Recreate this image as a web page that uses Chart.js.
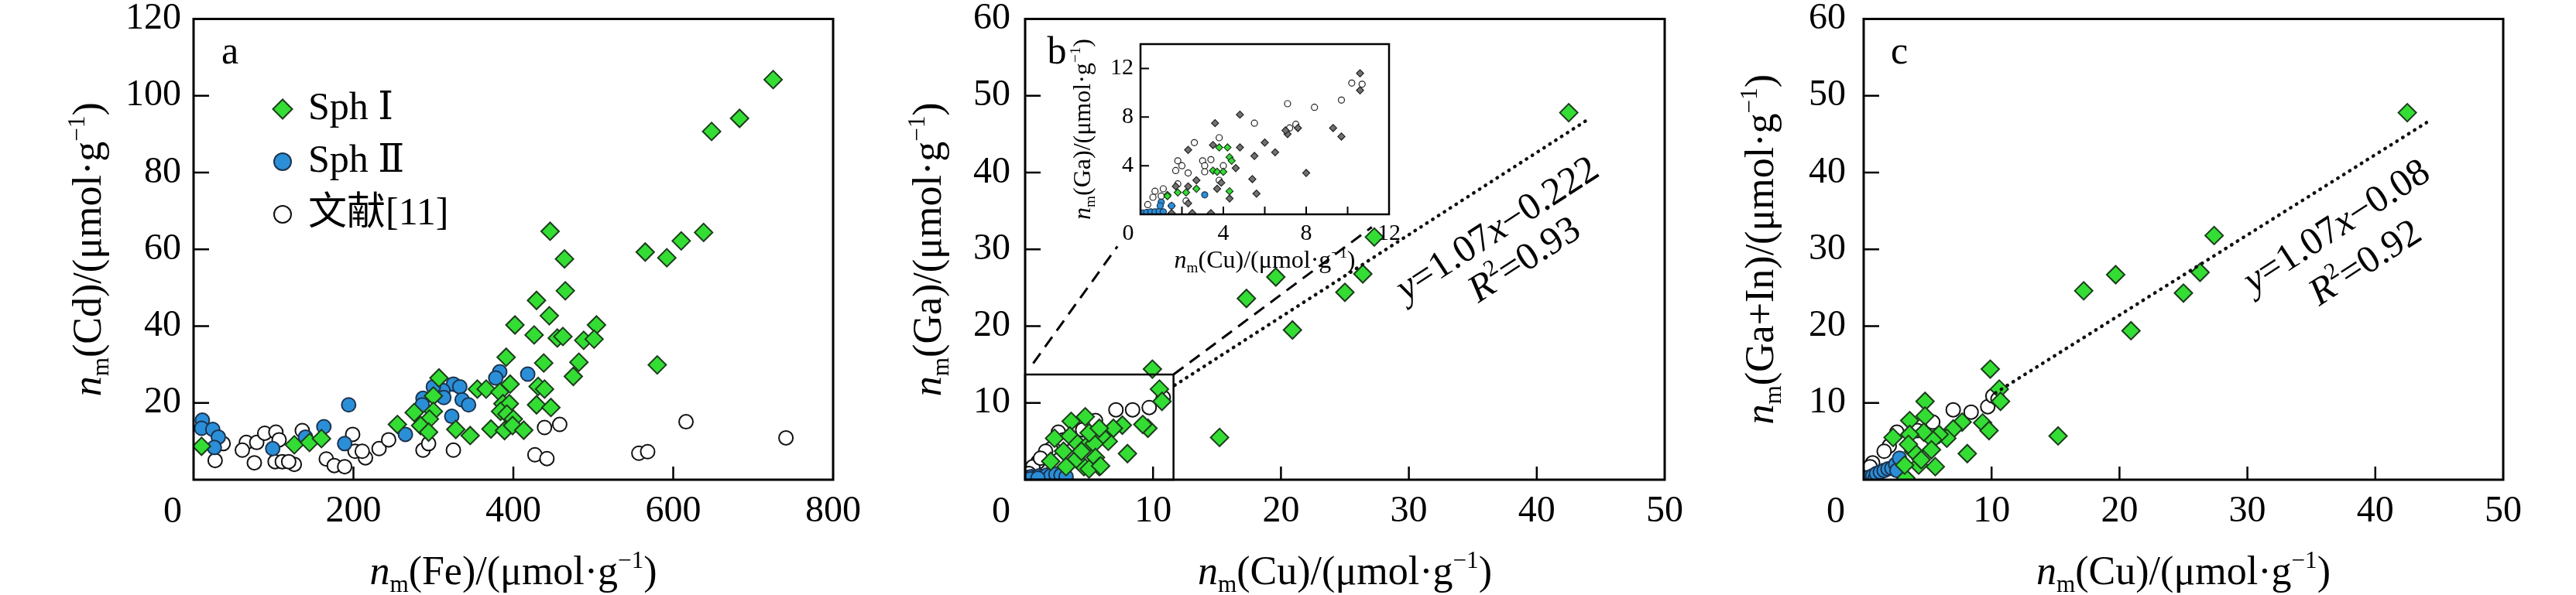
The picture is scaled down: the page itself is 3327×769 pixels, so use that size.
<!DOCTYPE html>
<html>
<head>
<meta charset="utf-8">
<title>Sph Cd / Ga / Ga+In scatter</title>
<script src="https://cdn.jsdelivr.net/npm/chart.js@4.4.1/dist/chart.umd.min.js"></script>
<style>
  html, body { margin: 0; padding: 0; background: #fff; }
  #wrap { position: relative; width: 3327px; height: 769px; overflow: hidden; background: #fff; }
  canvas { position: absolute; }
</style>
</head>
<body>
<div id="wrap">
  <canvas id="panelA" width="1166" height="809"></canvas>
  <canvas id="panelB" width="1166" height="809"></canvas>
  <canvas id="panelC" width="1166" height="809"></canvas>
  <canvas id="insetB" width="440" height="340"></canvas>
</div>
<script>
const FONT = '"Liberation Serif", "DejaVu Serif", "Noto Sans CJK SC", serif';
Chart.defaults.color = '#000';
Chart.defaults.font.family = FONT;

const seriesLabels = ['Sph Ⅰ', 'Sph Ⅱ', '文献[11]'];

// panel a: Fe vs Cd
const aSph1Fe = [725, 683, 648, 638, 610, 565, 592, 580, 446, 464, 465, 429, 445, 402, 426, 455, 462, 504, 488, 501,
  391, 438, 482, 475, 307, 355, 366, 396, 383, 431, 439, 300, 387, 395, 429, 447, 384, 392, 300, 276,
  295, 284, 294, 400, 328, 346, 372, 389, 399, 413, 10, 126, 145, 160, 255];
const aSph1Cd = [104.2, 94.1, 90.7, 64.4, 62.2, 59.3, 57.8, 29.9, 64.7, 57.5, 49.2, 46.7, 42.7, 40.3, 37.7, 36.9, 37.3, 40.3, 36.3, 36.6,
  31.9, 30.4, 30.6, 26.9, 26.5, 23.6, 23.6, 24.9, 22.8, 24.3, 23.6, 21.8, 19.8, 19.8, 19.5, 18.8, 17.8, 17.1, 17.8, 17.5,
  15.8, 14.1, 12.4, 15.8, 13.1, 11.5, 13.2, 12.8, 14.1, 12.9, 8.7, 9.1, 9.7, 10.7, 14.4];
const aSph2Fe = [11, 10, 24, 31, 26, 99, 163, 194, 189, 265, 140, 383, 378, 418, 325, 333, 312, 300, 336, 344, 287, 286, 313, 323];
const aSph2Cd = [15.5, 13.4, 13.1, 11.1, 8.4, 8.1, 13.8, 19.5, 9.4, 11.8, 11.1, 28.1, 26.5, 27.5, 24.9, 24.2, 23.2, 24.2, 20.8, 19.5, 21.2, 19.5, 21.4, 16.5];
const aLitFe = [37, 27, 66, 61, 79, 89, 103, 107, 76, 102, 111, 126, 119, 136, 166, 176, 189, 199, 202, 215,
  211, 232, 244, 287, 294, 325, 439, 458, 427, 442, 557, 568, 741, 616];
const aLitCd = [9.4, 5.0, 9.7, 7.7, 9.7, 12.1, 12.4, 10.4, 4.4, 4.7, 4.7, 4.0, 4.7, 12.8, 5.4, 3.7, 3.4, 11.8, 7.4, 5.7,
  7.4, 8.1, 10.4, 7.7, 9.4, 7.7, 13.6, 14.4, 6.5, 5.5, 6.9, 7.3, 10.9, 15.1];

// panel b: Cu vs Ga
const bSph1Cu = [42.5, 27.3, 26.4, 19.6, 17.3, 25.0, 20.9, 15.2, 9.95, 10.5, 10.7, 9.6, 9.2, 8.0, 7.6, 6.9, 6.5, 6.0, 4.7, 3.6,
  2.3, 3.5, 4.1, 4.8, 5.4, 5.5, 5.8, 4.6, 4.0, 3.2, 3.0, 2.0, 4.4, 5.0, 5.8, 5.0, 5.9];
const bSph1Ga = [47.8, 31.6, 26.8, 26.4, 23.6, 24.4, 19.5, 5.5, 14.4, 11.8, 10.2, 6.7, 7.2, 3.4, 7.1, 6.7, 5.0, 5.7, 8.2, 7.6,
  5.4, 5.7, 4.7, 4.4, 4.7, 2.9, 1.7, 1.7, 2.7, 1.7, 3.7, 2.4, 3.7, 6.1, 6.7, 1.4, 1.8];
const bSph2Cu = [0.2, 0.5, 0.8, 1.1, 1.4, 1.7, 2.0, 2.4, 2.8, 3.2, 0.4, 1.0];
const bSph2Ga = [0.3, 0.4, 0.3, 0.5, 0.4, 0.6, 0.5, 0.7, 0.6, 0.4, 0.1, 0.2];
const bLitCu = [7.1, 8.4, 9.7, 10.8, 5.5, 2.6, 2.0, 1.6, 1.0, 0.6, 3.0, 1.2, 0.3, 4.5];
const bLitGa = [9.1, 9.1, 9.4, 10.7, 7.7, 6.2, 4.0, 3.7, 2.3, 1.7, 5.2, 2.8, 0.8, 6.5];
const bFitCu = [11.7, 43.9];
const bFitGa = [12.3, 46.8];
const zoomBoxCu = 11.6;
const zoomBoxGa = 13.7;

// panel c: Cu vs Ga+In
const cSph1Cu = [42.5, 27.4, 26.3, 19.7, 17.2, 25.0, 20.9, 15.2, 9.9, 10.6, 10.7, 4.8, 4.8, 3.6, 9.3, 9.8, 7.7, 7.0, 6.5, 5.9,
  5.4, 4.7, 3.6, 2.3, 3.9, 5.3, 8.1, 5.6, 4.3, 3.3, 3.2, 4.5, 3.5];
const cSph1GaIn = [47.8, 31.8, 27.0, 26.7, 24.6, 24.3, 19.4, 5.7, 14.4, 11.8, 10.2, 10.2, 8.3, 7.7, 7.4, 6.4, 7.5, 6.6, 5.4, 5.9,
  5.2, 6.2, 5.9, 5.5, 3.7, 3.9, 3.4, 1.7, 1.9, 0.2, 1.9, 2.6, 4.6];
const cSph2Cu = [0.2, 0.4, 0.7, 0.9, 1.0, 1.3, 1.6, 1.9, 2.2, 2.5, 2.6, 2.8];
const cSph2GaIn = [0.15, 0.3, 0.5, 0.2, 0.8, 1.0, 1.2, 1.4, 1.5, 2.0, 1.2, 2.8];
const cLitCu = [7.0, 8.4, 9.7, 10.1, 5.4, 2.6, 2.0, 1.6, 0.7, 0.5, 10.5, 4.2];
const cLitGaIn = [9.1, 8.8, 9.5, 10.9, 7.5, 6.2, 4.4, 3.7, 2.2, 1.7, 10.5, 6.4];
const cFitCu = [10.3, 44.0];
const cFitGaIn = [11.3, 46.5];

// inset of panel b
const insetGreyCu = [10.6, 10.6, 4.8, 3.6, 7.6, 7.1, 9.3, 9.7, 6.0, 6.5, 5.5, 4.8, 3.5, 2.3, 4.6, 8.0, 2.7, 3.9, 5.4, 3.7,
  5.6, 4.3, 2.3, 1.5, 2.5, 3.4, 1.5, 1.7, 2.3, 7.0];
const insetGreyGa = [11.6, 10.2, 8.2, 7.5, 7.1, 6.6, 7.1, 6.4, 5.9, 5.1, 4.8, 5.5, 5.7, 5.3, 3.8, 3.4, 2.8, 2.6, 2.9, 2.1,
  1.7, 1.3, 0.9, 0.7, 0.1, 0.1, 0.1, 2.3, 2.3, 6.9];
const insetLitCu = [10.2, 10.7, 9.7, 7.1, 8.4, 5.5, 7.5, 7.2, 3.8, 2.6, 3.4, 3.0, 1.8, 2.0, 1.7, 2.3, 4.0, 3.1, 3.1, 1.8,
  1.1, 0.7, 1.0, 0.6, 0.35, 2.2, 3.8];
const insetLitGa = [10.8, 10.7, 9.4, 9.1, 8.8, 7.5, 7.4, 7.1, 6.3, 5.9, 4.5, 4.4, 4.4, 4.0, 3.6, 3.4, 4.0, 4.0, 3.5, 2.5,
  2.1, 1.9, 1.5, 1.4, 0.8, 1.1, 2.8];
const insetSph1Cu = [3.8, 4.2, 4.3, 4.4, 3.5, 3.7, 4.0, 2.7, 2.2, 1.8, 1.3, 1.3, 4.3];
const insetSph1Ga = [5.5, 5.5, 4.7, 4.4, 3.6, 3.5, 3.5, 2.1, 1.8, 1.8, 1.6, 1.5, 1.9];
const insetSph2Cu = [0.1, 0.3, 0.5, 0.7, 0.9, 1.1, 1.0, 0.95, 3.1, 1.5];
const insetSph2Ga = [0.1, 0.15, 0.2, 0.2, 0.25, 0.2, 1.0, 0.7, 1.6, 0.7];

// canvas placement (page px)
const POS = {
  a: { left: -10, top: -40 },
  b: { left: 1064, top: -40 },
  c: { left: 2147, top: -40 },
  inset: { left: 1380, top: 30 }
};
Object.entries({ panelA: POS.a, panelB: POS.b, panelC: POS.c, insetB: POS.inset }).forEach(([id, p]) => {
  const el = document.getElementById(id);
  el.style.left = p.left + 'px';
  el.style.top = p.top + 'px';
});

const STYLE = {
  sph1: { pointStyle: 'rectRot', radius: 11.5, bg: '#33dd33', line: '#1d3b1d', width: 2 },
  sph2: { pointStyle: 'circle', radius: 9, bg: '#2b8fd8', line: '#1c3350', width: 2 },
  lit: { pointStyle: 'circle', radius: 9, bg: '#ffffff', line: '#111111', width: 2 },
  grey: { pointStyle: 'rectRot', radius: 4.6, bg: '#727272', line: '#222222', width: 1.2 },
  sph1s: { pointStyle: 'rectRot', radius: 4.6, bg: '#33dd33', line: '#1d3b1d', width: 1.2 },
  sph2s: { pointStyle: 'circle', radius: 4, bg: '#2b8fd8', line: '#1c3350', width: 1.2 },
  lits: { pointStyle: 'circle', radius: 4, bg: '#ffffff', line: '#222222', width: 1.2 }
};

function pts(xs, ys) {
  return xs.map((v, i) => ({ x: v, y: ys[i] }));
}

function scatterSet(label, xs, ys, st) {
  return {
    label: label,
    data: pts(xs, ys),
    pointStyle: st.pointStyle,
    pointRadius: st.radius,
    pointBackgroundColor: st.bg,
    pointBorderColor: st.line,
    pointBorderWidth: st.width,
    backgroundColor: st.bg,
    borderColor: st.line
  };
}

function fitSet(xs, ys) {
  return {
    label: '',
    data: pts(xs, ys),
    showLine: true,
    borderColor: '#111',
    borderWidth: 4.5,
    borderDash: [0.5, 8.5],
    borderCapStyle: 'round',
    pointRadius: 0,
    fill: false
  };
}

// text with italic / sub / sup runs, centred on (cx, cy)
function drawRich(ctx, parts, cx, cy, size, angle) {
  ctx.save();
  ctx.translate(cx, cy);
  ctx.rotate(angle);
  ctx.textAlign = 'left';
  ctx.textBaseline = 'alphabetic';
  ctx.fillStyle = '#000';
  const fonts = parts.map(p => {
    const small = p[1] === 'sub' || p[1] === 'sup';
    return (p[1] === 'i' ? 'italic ' : '') + (small ? size * 0.6 : size) + 'px ' + FONT;
  });
  const widths = parts.map((p, i) => {
    ctx.font = fonts[i];
    return ctx.measureText(p[0]).width;
  });
  let px = -widths.reduce((s, w) => s + w, 0) / 2;
  parts.forEach((p, i) => {
    const dy = p[1] === 'sub' ? size * 0.2 : p[1] === 'sup' ? -size * 0.4 : 0;
    ctx.font = fonts[i];
    ctx.fillText(p[0], px, size * 0.25 + dy);
    px += widths[i];
  });
  ctx.restore();
}

function unitTitle(el) {
  return [['n', 'i'], ['m', 'sub'], ['(' + el + ')/(μmol·g', ''], ['−1', 'sup'], [')', '']];
}

function decoPlugin(cfg) {
  return {
    id: 'deco',
    beforeDraw(chart) {
      if (!cfg.fillArea) return;
      const a = chart.chartArea, c = chart.ctx;
      c.save();
      c.fillStyle = '#fff';
      c.fillRect(a.left, a.top, a.right - a.left, a.bottom - a.top);
      c.restore();
    },
    afterDraw(chart) {
      const c = chart.ctx, a = chart.chartArea, sx = chart.scales.x, sy = chart.scales.y;
      c.save();
      c.strokeStyle = '#000';
      c.fillStyle = '#000';
      c.lineWidth = cfg.frameWidth;
      c.strokeRect(a.left, a.top, a.right - a.left, a.bottom - a.top);

      // inward tick marks
      c.lineWidth = cfg.tickWidth;
      c.beginPath();
      sx.ticks.forEach(t => {
        if (t.value <= sx.min || t.value >= sx.max || t.value % cfg.xTickMod) return;
        const p = sx.getPixelForValue(t.value);
        c.moveTo(p, a.bottom);
        c.lineTo(p, a.bottom - cfg.xTickLen);
      });
      sy.ticks.forEach(t => {
        if (t.value <= sy.min || t.value >= sy.max || t.value % cfg.yTickMod) return;
        const p = sy.getPixelForValue(t.value);
        c.moveTo(a.left, p);
        c.lineTo(a.left + cfg.yTickLen, p);
      });
      c.stroke();

      // shared origin label
      c.font = cfg.tickSize + 'px ' + FONT;
      c.textAlign = 'center';
      c.textBaseline = 'middle';
      c.fillText('0', a.left + cfg.zero[0], a.bottom + cfg.zero[1]);

      drawRich(c, cfg.xTitle, (a.left + a.right) / 2, a.bottom + cfg.xTitleDy, cfg.titleSize, 0);
      drawRich(c, cfg.yTitle, a.left - cfg.yTitleDx, (a.top + a.bottom) / 2, cfg.titleSize, -Math.PI / 2);

      if (cfg.letter) {
        c.font = '50px ' + FONT;
        c.textAlign = 'center';
        c.textBaseline = 'alphabetic';
        c.fillText(cfg.letter, a.left + cfg.letterPos[0], a.top + cfg.letterPos[1]);
      }
      if (cfg.extra) cfg.extra(chart, c, a, sx, sy);
      c.restore();
    }
  };
}

function marker(c, st, r, x, y) {
  c.fillStyle = st.bg;
  c.strokeStyle = st.line;
  c.lineWidth = 2;
  if (Chart.helpers && Chart.helpers.drawPoint) {
    Chart.helpers.drawPoint(c, { pointStyle: st.pointStyle, radius: r, rotation: 0, borderWidth: 2 }, x, y);
    return;
  }
  c.beginPath();
  if (st.pointStyle === 'rectRot') {
    c.moveTo(x - r, y); c.lineTo(x, y - r); c.lineTo(x + r, y); c.lineTo(x, y + r); c.closePath();
  } else {
    c.arc(x, y, r, 0, Math.PI * 2);
  }
  c.fill();
  c.stroke();
}

function drawLegend(chart, c, a) {
  const styles = [STYLE.sph1, STYLE.sph2, STYLE.lit];
  const radii = [12.5, 11, 11];
  seriesLabels.forEach((label, i) => {
    const y = a.top + 116.5 + i * 68;
    marker(c, styles[i], radii[i], a.left + 115, y);
    c.fillStyle = '#000';
    c.font = '50px ' + FONT;
    c.textAlign = 'left';
    c.textBaseline = 'middle';
    c.fillText(label, a.left + 148, y);
  });
}

function eqLabels(eq, r2, eqPos, rPos) {
  return function (c, a) {
    const ang = -33 * Math.PI / 180;
    drawRich(c, eq, a.left + eqPos[0], a.top + eqPos[1], 50, ang);
    drawRich(c, r2, a.left + rPos[0], a.top + rPos[1], 50, ang);
  };
}

const eqB = eqLabels([['y', 'i'], ['=1.07', ''], ['x', 'i'], ['−0.222', '']], [['R', 'i'], ['2', 'sup'], ['=0.93', '']], [611, 273], [646, 313]);
const eqC = eqLabels([['y', 'i'], ['=1.07', ''], ['x', 'i'], ['−0.08', '']], [['R', 'i'], ['2', 'sup'], ['=0.92', '']], [612, 270], [649, 317]);

function mainChart(id, cfg, datasets) {
  return new Chart(document.getElementById(id), {
    type: 'scatter',
    data: { datasets: datasets },
    options: {
      responsive: false,
      animation: false,
      events: [],
      layout: { padding: { left: 0, right: 80, top: 64.5, bottom: 0 } },
      plugins: { legend: { display: false }, tooltip: { enabled: false } },
      scales: {
        x: {
          type: 'linear', min: 0, max: cfg.xMax,
          grid: { display: false, drawTicks: false }, border: { display: false },
          ticks: { stepSize: cfg.xStep, autoSkip: false, maxRotation: 0, padding: 13, color: '#000',
            font: { family: FONT, size: 48 }, callback: v => (v === 0 ? '' : v) },
          afterFit: s => { s.height = 149; }
        },
        y: {
          type: 'linear', min: 0, max: cfg.yMax,
          grid: { display: false, drawTicks: false }, border: { display: false },
          ticks: { stepSize: cfg.yStep, autoSkip: false, padding: cfg.yPad, color: '#000',
            font: { family: FONT, size: 48 }, callback: v => (v === 0 ? '' : v) },
          afterFit: s => { s.width = 260; }
        }
      }
    },
    plugins: [decoPlugin(Object.assign({
      frameWidth: 3, tickWidth: 2.5, xTickLen: 17, yTickLen: 20, tickSize: 48, titleSize: 52,
      xTickMod: 1, yTickMod: 1, xTitleDy: 122
    }, cfg))]
  });
}

// inset first, so panel b can reach its corners
const insetChart = new Chart(document.getElementById('insetB'), {
  type: 'scatter',
  data: {
    datasets: [
      scatterSet('Sph Ⅰ', insetSph1Cu, insetSph1Ga, STYLE.sph1s),
      scatterSet('Sph Ⅱ', insetSph2Cu, insetSph2Ga, STYLE.sph2s),
      scatterSet('', insetGreyCu, insetGreyGa, STYLE.grey),
      scatterSet('文献[11]', insetLitCu, insetLitGa, STYLE.lits)
    ]
  },
  options: {
    responsive: false,
    animation: false,
    events: [],
    layout: { padding: { left: 0, right: 26, top: 15, bottom: 0 } },
    plugins: { legend: { display: false }, tooltip: { enabled: false } },
    scales: {
      x: {
        type: 'linear', min: 0, max: 12,
        grid: { display: false, drawTicks: false }, border: { display: false },
        ticks: { stepSize: 2, autoSkip: false, maxRotation: 0, padding: 7, color: '#000',
          font: { family: FONT, size: 30 }, callback: v => (v !== 0 && v % 4 === 0 ? v : '') },
        afterFit: s => { s.height = 93; }
      },
      y: {
        type: 'linear', min: 0, max: 14,
        grid: { display: false, drawTicks: false }, border: { display: false },
        ticks: { stepSize: 4, autoSkip: false, padding: 9, color: '#000',
          font: { family: FONT, size: 30 }, callback: v => (v !== 0 && v % 4 === 0 ? v : '') },
        afterFit: s => { s.width = 93; }
      }
    }
  },
  plugins: [decoPlugin({
    fillArea: true, frameWidth: 2.5, tickWidth: 2, xTickLen: 10, yTickLen: 11, tickSize: 30, titleSize: 32,
    xTickMod: 2, yTickMod: 4, zero: [-16, 25], xTitle: unitTitle('Cu'), yTitle: unitTitle('Ga'),
    xTitleDy: 61, yTitleDx: 73
  })]
});

function drawZoomGuide(chart, c, a, sx, sy) {
  const left = sx.getPixelForValue(0);
  const right = sx.getPixelForValue(zoomBoxCu);
  const top = sy.getPixelForValue(zoomBoxGa);
  const bottom = sy.getPixelForValue(0);
  c.lineWidth = 2.5;
  c.strokeRect(left, top, right - left, bottom - top);

  const ia = insetChart.chartArea;
  const dx = POS.inset.left - POS.b.left, dy = POS.inset.top - POS.b.top;
  const seg = (p, q, t0, t1) => {
    c.beginPath();
    c.moveTo(p[0] + (q[0] - p[0]) * t0, p[1] + (q[1] - p[1]) * t0);
    c.lineTo(p[0] + (q[0] - p[0]) * t1, p[1] + (q[1] - p[1]) * t1);
    c.stroke();
  };
  c.setLineDash([16, 10]);
  c.lineWidth = 3;
  seg([left, top], [ia.left + dx, ia.bottom + dy], 0.07, 0.8);
  seg([right, top], [ia.right + dx, ia.bottom + dy], 0.0, 0.92);
  c.setLineDash([]);
  eqB(c, a);
}

mainChart('panelA', {
  xMax: 800, xStep: 200, yMax: 120, yStep: 20, yPad: 16,
  zero: [-27, 42], xTitle: unitTitle('Fe'), yTitle: unitTitle('Cd'), yTitleDx: 133,
  letter: 'a', letterPos: [47, 57.5], extra: drawLegend
}, [
  scatterSet(seriesLabels[0], aSph1Fe, aSph1Cd, STYLE.sph1),
  scatterSet(seriesLabels[1], aSph2Fe, aSph2Cd, STYLE.sph2),
  scatterSet(seriesLabels[2], aLitFe, aLitCd, STYLE.lit)
]);

mainChart('panelB', {
  xMax: 50, xStep: 10, yMax: 60, yStep: 10, yPad: 19,
  zero: [-31, 42], xTitle: unitTitle('Cu'), yTitle: unitTitle('Ga'), yTitleDx: 122,
  letter: 'b', letterPos: [41, 57.5], extra: drawZoomGuide
}, [
  fitSet(bFitCu, bFitGa),
  scatterSet(seriesLabels[0], bSph1Cu, bSph1Ga, STYLE.sph1),
  scatterSet(seriesLabels[1], bSph2Cu, bSph2Ga, STYLE.sph2),
  scatterSet(seriesLabels[2], bLitCu, bLitGa, STYLE.lit)
]);

mainChart('panelC', {
  xMax: 50, xStep: 10, yMax: 60, yStep: 10, yPad: 23,
  zero: [-36, 42], xTitle: unitTitle('Cu'), yTitle: unitTitle('Ga+In'), yTitleDx: 130,
  letter: 'c', letterPos: [46, 57.5], extra: (chart, c, a) => eqC(c, a)
}, [
  fitSet(cFitCu, cFitGaIn),
  scatterSet(seriesLabels[0], cSph1Cu, cSph1GaIn, STYLE.sph1),
  scatterSet(seriesLabels[1], cSph2Cu, cSph2GaIn, STYLE.sph2),
  scatterSet(seriesLabels[2], cLitCu, cLitGaIn, STYLE.lit)
]);
</script>
</body>
</html>
